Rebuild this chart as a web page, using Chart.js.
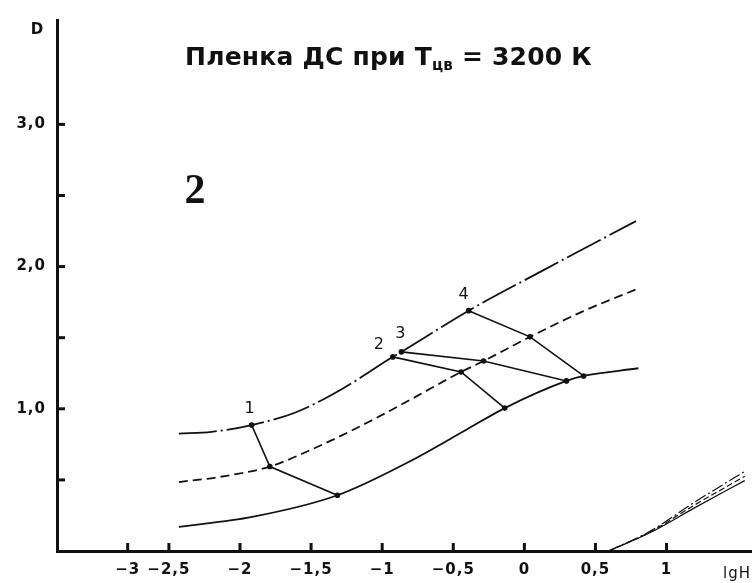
<!DOCTYPE html>
<html><head><meta charset="utf-8">
<script src="https://cdn.jsdelivr.net/npm/chart.js@4"></script>
<style>html,body{margin:0;padding:0;background:#fff}</style>
</head><body>
<canvas id="c" width="755" height="583"></canvas>
<script>
// ---- data ----
const dashDotX = [-2.43, -2.2, -1.918, -1.61, -1.285, -0.925, -0.865, -0.392, 0.138, 0.785];
const dashDotY = [0.825, 0.838, 0.886, 0.974, 1.138, 1.365, 1.400, 1.690, 1.977, 2.320];
const dashedX  = [-2.43, -2.15, -1.79, -1.45, -1.10, -0.80, -0.445, -0.287, 0.040, 0.40, 0.795];
const dashedY  = [0.485, 0.520, 0.594, 0.735, 0.905, 1.065, 1.259, 1.336, 1.506, 1.680, 1.844];
const solidX   = [-2.43, -1.914, -1.315, -0.818, -0.399, -0.138, 0.296, 0.417, 0.802];
const solidY   = [0.170, 0.240, 0.392, 0.624, 0.858, 1.005, 1.196, 1.231, 1.285];
// connecting lines (points 1..4): dash-dot -> dashed -> solid
const link1X = [-1.918, -1.790, -1.315], link1Y = [0.886, 0.594, 0.392];
const link2X = [-0.925, -0.445, -0.138], link2Y = [1.365, 1.259, 1.005];
const link3X = [-0.865, -0.287, 0.296],  link3Y = [1.400, 1.336, 1.196];
const link4X = [-0.392, 0.040, 0.417],   link4Y = [1.690, 1.506, 1.231];
const linkLabels = ['1', '2', '3', '4'];
// small group of lines at lower right
const lowX = [0.592, 0.883, 1.2, 1.55];
const lowSolidY   = [0.0, 0.128, 0.305, 0.495];
const lowDashedY  = [0.0, 0.133, 0.325, 0.525];
const lowDashDotY = [0.0, 0.138, 0.345, 0.560];
// axes
const xTickValues = [-2.79, -2.5, -2, -1.5, -1, -0.5, 0, 0.5, 1];
const xTickLabels = ['\u22123', '\u22122,5', '\u22122', '\u22121,5', '\u22121', '\u22120,5', '0', '0,5', '1'];
const yTickValues = [0.5, 1, 1.5, 2, 2.5, 3];
const yTickLabels = ['', '1,0', '', '2,0', '', '3,0'];
const titleMain = 'Пленка ДС при Т', titleSub = 'цв', titleEnd = ' = 3200 К';
const panelLabel = '2', yAxisLabel = 'D', xAxisLabel = 'lgH';

const xy = (xs, ys) => xs.map((x, i) => ({x, y: ys[i]}));
const INK = '#111';
const SANS = '"DejaVu Sans", "Liberation Sans", Arial, sans-serif';
const curve = (xs, ys, dash, w) => ({data: xy(xs, ys), borderColor: INK, borderWidth: w || 1.8, borderDash: dash,
  pointRadius: 0, tension: 0.4, cubicInterpolationMode: 'monotone', fill: false});
const link = (xs, ys) => ({data: xy(xs, ys), borderColor: INK, borderWidth: 1.6, tension: 0,
  pointRadius: 2.8, pointBackgroundColor: INK, pointBorderWidth: 0, fill: false});

const decor = {
  id: 'decor',
  beforeDraw(chart) { chart.ctx.letterSpacing = '1px'; },
  afterDraw(chart) {
    const ctx = chart.ctx, xs = chart.scales.x, ys = chart.scales.y, ca = chart.chartArea;
    ctx.save();
    ctx.letterSpacing = '0px';
    ctx.strokeStyle = INK; ctx.lineWidth = 3; ctx.lineCap = 'butt';
    xs.ticks.forEach(t => { const p = xs.getPixelForValue(t.value);
      ctx.beginPath(); ctx.moveTo(p, ca.bottom); ctx.lineTo(p, ca.bottom - 8); ctx.stroke(); });
    ys.ticks.forEach(t => { const p = ys.getPixelForValue(t.value);
      ctx.beginPath(); ctx.moveTo(ca.left, p); ctx.lineTo(ca.left + 8, p); ctx.stroke(); });
    ctx.fillStyle = INK; ctx.textBaseline = 'alphabetic'; ctx.textAlign = 'left';
    // title, spaced to span the same width as the original
    const big = 'bold 25px ' + SANS, small = 'bold 15px ' + SANS;
    ctx.font = big; let w = ctx.measureText(titleMain + titleEnd).width;
    ctx.font = small; w += ctx.measureText(titleSub).width;
    const n = (titleMain + titleSub + titleEnd).length;
    const sp = (407 - w) / n;
    ctx.letterSpacing = sp + 'px';
    let x0 = 185; const base = 65;
    ctx.font = big; ctx.fillText(titleMain, x0, base); x0 += ctx.measureText(titleMain).width;
    ctx.font = small; ctx.fillText(titleSub, x0, base + 5); x0 += ctx.measureText(titleSub).width;
    ctx.font = big; ctx.fillText(titleEnd, x0, base);
    ctx.letterSpacing = '0px';
    // panel label
    ctx.font = 'bold 42px "Liberation Serif", "Times New Roman", serif'; ctx.textAlign = 'center';
    ctx.fillText(panelLabel, 195, 203);
    // axis labels
    ctx.font = 'bold 15px ' + SANS;
    ctx.fillText(yAxisLabel, 37, 34);
    ctx.font = '15px ' + SANS; ctx.letterSpacing = '1px';
    ctx.fillText(xAxisLabel, 737, 578);
    ctx.letterSpacing = '0px';
    // point labels
    const links = [[link1X, link1Y], [link2X, link2Y], [link3X, link3Y], [link4X, link4Y]];
    const offs = [[-2, -12], [-14, -8], [-1, -14], [-5, -12]];
    ctx.font = '16px ' + SANS;
    links.forEach((l, i) => {
      const px = xs.getPixelForValue(l[0][0]), py = ys.getPixelForValue(l[1][0]);
      ctx.fillText(linkLabels[i], px + offs[i][0], py + offs[i][1]);
    });
    ctx.restore();
  }
};

new Chart(document.getElementById('c'), {
  type: 'line',
  data: { datasets: [
    curve(dashDotX, dashDotY, [38, 4, 2, 4]),
    curve(dashedX, dashedY, [9, 5]),
    curve(solidX, solidY, []),
    link(link1X, link1Y), link(link2X, link2Y), link(link3X, link3Y), link(link4X, link4Y),
    curve(lowX, lowSolidY, [], 1.2),
    curve(lowX, lowDashedY, [6, 3], 1.2),
    curve(lowX, lowDashDotY, [12, 3, 2, 3], 1.2)
  ]},
  options: {
    responsive: false, animation: false,
    layout: { padding: { top: 17, right: 0, left: 0, bottom: 0 } },
    plugins: { legend: { display: false }, tooltip: { enabled: false }, title: { display: false } },
    scales: {
      x: { type: 'linear', min: -3.287, max: 1.594,
        afterFit: s => { s.height = 32; },
        afterBuildTicks: s => { s.ticks = xTickValues.map(v => ({value: v})); },
        grid: { display: false, drawTicks: false },
        border: { display: true, width: 3, color: INK },
        ticks: { autoSkip: false, maxRotation: 0, padding: 10, color: INK,
          font: { family: SANS, size: 15, weight: 'bold' },
          callback: (v, i) => xTickLabels[i] } },
      y: { type: 'linear', min: 0, max: 3.734,
        afterFit: s => { s.width = 57; },
        afterBuildTicks: s => { s.ticks = yTickValues.map(v => ({value: v})); },
        grid: { display: false, drawTicks: false },
        border: { display: true, width: 3, color: INK },
        ticks: { autoSkip: false, padding: 11, color: INK,
          font: { family: SANS, size: 15, weight: 'bold' },
          callback: (v, i) => yTickLabels[i] } }
    }
  },
  plugins: [decor]
});
</script>
</body></html>
